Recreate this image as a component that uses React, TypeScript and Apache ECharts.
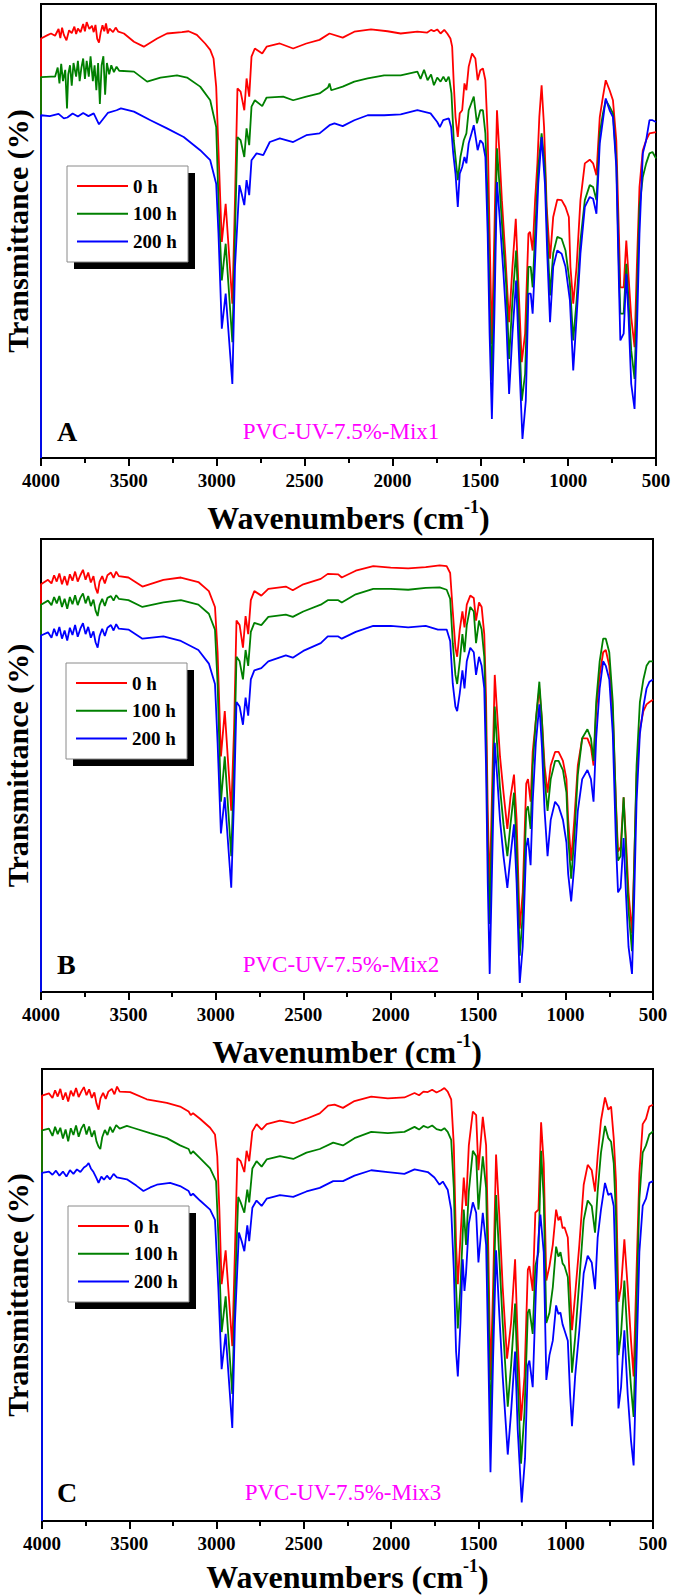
import React, { useEffect, useRef } from 'react';
import * as echarts from 'echarts';

const FONT = "'Times New Roman', 'Liberation Serif', 'DejaVu Serif', serif";

const SERIES_NAMES = ['0 h', '100 h', '200 h'];
const SERIES_COLORS = ['#ff0000', '#008000', '#0000ff'];
const PANEL_LETTERS = ['A', 'B', 'C'];
const PANEL_SAMPLES = ['PVC-UV-7.5%-Mix1', 'PVC-UV-7.5%-Mix2', 'PVC-UV-7.5%-Mix3'];
const X_TITLE_WORDS = ['Wavenumbers', 'Wavenumber', 'Wavenumbers'];
const Y_TITLE = 'Transmittance (%)';
const X_MIN = 500;
const X_MAX = 4000;
const X_STEP = 500;

// Panel A — [wavenumber cm-1, transmittance (a.u., 0-100 of the frame)]
const A_0H: number[][] = [[4000,0],[4000,92.4],[3960,93.2],[3943,93.5],[3920,93.0],[3900,94.5],[3890,92.5],[3880,94.8],[3870,93.2],[3855,92.0],[3840,94.2],[3825,93.6],[3810,95.0],[3800,93.4],[3790,94.6],[3775,93.8],[3760,95.6],[3750,94.0],[3740,96.0],[3725,94.5],[3710,95.2],[3700,93.8],[3690,95.4],[3680,92.3],[3670,91.5],[3660,93.8],[3650,95.3],[3640,94.0],[3630,95.7],[3620,93.5],[3610,94.6],[3590,93.8],[3575,94.8],[3560,93.9],[3528,93.5],[3471,91.7],[3415,90.6],[3339,92.4],[3283,93.5],[3198,93.8],[3160,94.0],[3113,93.2],[3066,91.3],[3037,89.9],[3018,88.0],[3003,81.8],[2990,67.8],[2971,47.6],[2949,56.0],[2911,34.0],[2896,56.8],[2882,81.4],[2864,80.7],[2843,76.6],[2830,83.6],[2815,79.6],[2802,88.4],[2783,90.2],[2741,89.1],[2716,90.6],[2641,91.3],[2565,90.2],[2490,91.3],[2415,92.1],[2358,93.5],[2283,92.6],[2217,93.9],[2122,94.4],[2028,94.0],[1953,93.5],[1858,93.9],[1802,93.7],[1780,94.3],[1764,94.0],[1745,94.4],[1726,93.5],[1705,94.3],[1688,93.5],[1670,92.4],[1660,90.6],[1651,82.5],[1641,75.1],[1628,70.7],[1617,75.9],[1603,76.6],[1590,82.5],[1579,81.0],[1566,86.2],[1547,89.1],[1528,88.0],[1515,83.2],[1500,85.4],[1485,85.8],[1471,83.2],[1458,71.5],[1447,49.4],[1434,25.1],[1420,49.4],[1405,76.6],[1392,67.8],[1377,56.8],[1358,45.0],[1336,29.9],[1317,42.1],[1298,52.7],[1283,38.4],[1264,21.1],[1245,27.4],[1226,49.4],[1217,49.8],[1202,45.7],[1188,56.8],[1175,64.9],[1164,75.1],[1151,82.1],[1137,72.9],[1122,55.3],[1103,43.9],[1085,53.1],[1062,56.9],[1037,56.8],[1015,55.3],[996,53.1],[987,42.1],[971,34.0],[952,42.1],[930,56.8],[905,64.9],[877,65.7],[858,64.9],[839,62.3],[830,68.5],[820,75.1],[802,79.6],[786,83.2],[764,81.0],[745,78.8],[726,70.0],[711,49.4],[703,37.6],[684,37.6],[669,47.9],[656,39.9],[641,31.0],[622,24.4],[609,42.1],[594,59.7],[575,67.8],[556,70.0],[537,71.5],[500,71.8]];
const A_100H: number[][] = [[4000,0],[4000,83.9],[3943,84.0],[3920,84.0],[3905,86.0],[3895,82.5],[3885,86.8],[3875,83.0],[3862,85.5],[3852,77.0],[3845,84.5],[3835,86.5],[3825,82.0],[3815,87.0],[3800,84.0],[3790,87.5],[3780,83.0],[3770,86.0],[3760,88.0],[3750,83.5],[3740,87.5],[3728,84.0],[3718,88.5],[3705,83.0],[3695,86.5],[3685,81.0],[3675,87.0],[3665,78.0],[3655,86.5],[3645,88.5],[3635,80.0],[3625,87.0],[3612,84.5],[3600,86.5],[3585,85.0],[3570,86.2],[3555,85.3],[3471,85.1],[3396,82.9],[3320,83.8],[3226,84.3],[3169,83.8],[3094,81.8],[3037,78.8],[3003,72.9],[2990,56.8],[2971,39.1],[2949,47.2],[2911,25.5],[2896,49.4],[2882,70.7],[2864,70.0],[2843,66.3],[2830,72.6],[2815,68.9],[2802,77.4],[2783,78.8],[2741,77.5],[2716,79.4],[2622,79.6],[2565,78.8],[2490,79.6],[2415,80.3],[2367,81.6],[2358,82.5],[2348,81.0],[2283,81.8],[2217,82.9],[2141,83.6],[2047,84.3],[1953,84.3],[1858,85.1],[1840,83.5],[1820,85.5],[1800,83.2],[1780,84.5],[1764,82.1],[1745,83.8],[1726,82.9],[1710,84.0],[1695,82.9],[1680,84.0],[1675,83.2],[1664,80.3],[1651,70.0],[1628,61.2],[1613,66.3],[1594,70.0],[1579,71.5],[1566,76.6],[1537,79.6],[1519,73.7],[1500,76.6],[1485,76.6],[1471,71.5],[1458,56.8],[1447,34.7],[1434,17.1],[1420,38.4],[1405,68.2],[1390,59.7],[1368,46.5],[1353,38.4],[1336,21.8],[1317,34.7],[1296,45.7],[1281,31.0],[1264,12.6],[1245,18.5],[1226,42.1],[1213,42.1],[1202,37.6],[1188,49.4],[1170,64.1],[1151,71.5],[1132,64.1],[1119,49.4],[1103,35.8],[1085,45.1],[1062,48.7],[1037,48.3],[1015,45.7],[990,38.4],[971,25.9],[952,34.7],[930,47.9],[905,56.8],[877,60.1],[858,59.7],[839,56.8],[820,71.5],[802,75.9],[786,78.8],[764,77.4],[745,75.9],[726,65.6],[711,42.1],[703,31.8],[684,31.8],[669,42.8],[656,34.7],[641,23.7],[622,17.4],[609,34.7],[594,55.3],[575,61.9],[556,64.9],[537,67.1],[520,67.4],[500,66.0]];
const A_200H: number[][] = [[4000,0],[4000,75.5],[3950,75.3],[3900,75.8],[3870,74.8],[3850,75.0],[3820,75.9],[3790,75.2],[3760,76.0],[3730,75.3],[3700,75.9],[3670,73.5],[3640,75.0],[3620,76.0],[3570,76.6],[3545,77.0],[3471,76.3],[3377,74.4],[3283,72.6],[3188,70.7],[3094,67.8],[3037,65.6],[3003,60.4],[2990,49.4],[2971,28.5],[2949,36.2],[2911,16.3],[2896,42.1],[2871,60.1],[2858,58.2],[2843,55.7],[2830,61.2],[2815,57.9],[2802,65.6],[2773,67.1],[2735,66.7],[2698,69.6],[2641,70.4],[2565,69.6],[2490,71.1],[2415,71.5],[2358,73.3],[2330,73.7],[2283,73.1],[2217,74.4],[2141,75.5],[2047,75.5],[1953,75.7],[1858,76.6],[1783,75.9],[1745,74.0],[1730,72.9],[1711,74.4],[1679,74.8],[1666,72.9],[1654,67.1],[1641,62.6],[1628,55.3],[1617,62.6],[1603,64.1],[1590,66.3],[1579,64.9],[1566,69.3],[1537,73.3],[1515,67.8],[1500,70.0],[1485,69.3],[1471,66.3],[1458,49.4],[1447,27.4],[1434,8.6],[1420,31.0],[1405,60.8],[1390,53.1],[1368,40.6],[1353,31.0],[1336,14.1],[1317,27.4],[1296,39.1],[1281,23.7],[1260,4.2],[1241,12.6],[1226,36.2],[1213,36.2],[1202,31.8],[1188,43.5],[1170,60.4],[1151,70.7],[1132,60.4],[1119,45.0],[1103,29.9],[1085,42.1],[1062,45.7],[1037,45.0],[1015,42.1],[990,34.7],[971,19.3],[952,31.0],[930,45.0],[905,55.3],[877,57.5],[858,57.1],[839,53.8],[820,69.3],[802,74.4],[786,79.2],[764,76.6],[745,75.1],[726,64.1],[711,38.4],[703,25.9],[684,27.4],[669,40.6],[656,31.0],[641,16.3],[622,10.8],[609,27.4],[594,49.4],[575,67.1],[556,70.0],[537,74.4],[520,74.4],[500,74.0]];

// Panel B
const B_0H: number[][] = [[4000,0],[4000,90.0],[3960,91.0],[3940,90.2],[3925,92.0],[3910,90.6],[3895,92.4],[3880,90.0],[3865,91.8],[3850,89.8],[3835,92.2],[3820,90.8],[3805,92.8],[3790,90.6],[3775,92.0],[3760,93.2],[3745,91.0],[3730,92.6],[3715,90.4],[3700,91.8],[3688,89.2],[3676,88.0],[3665,90.6],[3650,91.8],[3635,90.2],[3620,92.0],[3600,92.6],[3585,91.4],[3570,92.8],[3555,91.8],[3500,91.5],[3420,89.5],[3300,91.0],[3200,91.5],[3100,90.5],[3040,88.5],[3005,85.0],[2990,75.0],[2971,52.0],[2949,62.0],[2912,40.0],[2896,58.0],[2882,82.0],[2864,81.0],[2845,76.0],[2830,83.0],[2815,79.0],[2800,86.5],[2780,88.5],[2740,87.5],[2700,89.0],[2600,89.5],[2560,88.7],[2500,90.0],[2400,91.2],[2360,92.3],[2300,92.2],[2280,91.5],[2200,93.0],[2100,94.0],[2000,93.7],[1900,93.5],[1800,93.8],[1720,94.2],[1680,94.0],[1660,92.5],[1645,84.0],[1630,76.0],[1620,74.0],[1605,80.0],[1590,84.0],[1578,80.5],[1565,85.5],[1545,87.5],[1525,87.0],[1512,82.0],[1495,86.0],[1480,85.0],[1465,79.0],[1455,65.0],[1445,40.0],[1434,22.0],[1420,45.0],[1405,70.0],[1392,62.0],[1375,52.0],[1355,44.0],[1333,36.0],[1315,43.0],[1295,48.0],[1280,38.0],[1262,14.0],[1245,22.0],[1225,46.0],[1215,47.0],[1200,42.0],[1188,53.0],[1170,60.0],[1150,67.0],[1135,60.0],[1120,50.0],[1103,44.0],[1085,50.0],[1060,53.0],[1040,53.0],[1015,51.0],[995,47.0],[985,38.0],[968,29.0],[950,38.0],[930,50.0],[905,56.0],[875,56.0],[855,54.0],[840,50.0],[825,62.0],[805,70.0],[785,75.0],[770,75.5],[750,72.0],[730,62.0],[712,42.0],[700,31.0],[685,32.0],[668,43.0],[655,34.0],[640,22.0],[620,13.0],[608,28.0],[594,48.0],[575,58.0],[555,62.0],[537,63.5],[520,64.0],[500,64.5]];
const B_100H: number[][] = [[4000,0],[4000,85.5],[3960,86.4],[3940,85.4],[3925,87.2],[3910,85.8],[3895,87.4],[3880,85.0],[3865,86.8],[3850,84.6],[3835,87.2],[3820,85.6],[3805,87.6],[3790,85.4],[3775,87.0],[3760,88.0],[3745,85.8],[3730,87.4],[3715,85.2],[3700,86.6],[3688,84.2],[3676,83.0],[3665,85.4],[3650,86.8],[3635,85.2],[3620,87.0],[3600,87.4],[3585,86.4],[3570,87.6],[3555,86.8],[3500,86.5],[3420,85.0],[3300,86.0],[3200,86.5],[3100,85.5],[3040,83.5],[3005,80.0],[2990,68.0],[2971,42.0],[2949,52.0],[2912,30.0],[2896,50.0],[2882,74.0],[2864,73.0],[2845,69.0],[2830,75.5],[2815,72.0],[2800,79.5],[2780,81.5],[2740,81.0],[2700,82.8],[2600,83.3],[2560,82.8],[2500,84.0],[2400,85.5],[2360,86.5],[2300,86.5],[2280,86.0],[2200,87.8],[2100,89.0],[2000,89.0],[1900,88.8],[1800,89.2],[1720,89.3],[1680,88.8],[1660,86.8],[1645,77.0],[1630,70.0],[1620,68.0],[1605,73.0],[1590,79.0],[1578,75.0],[1565,81.0],[1545,85.0],[1525,84.0],[1512,77.0],[1495,82.0],[1480,80.0],[1465,74.0],[1455,58.0],[1445,32.0],[1434,15.0],[1420,38.0],[1405,63.0],[1392,55.0],[1375,45.0],[1355,37.0],[1333,30.0],[1315,37.0],[1295,44.0],[1280,32.0],[1262,8.0],[1245,17.0],[1225,40.0],[1215,41.0],[1200,36.0],[1188,50.0],[1170,60.0],[1150,68.5],[1135,60.0],[1120,47.0],[1103,40.0],[1085,47.0],[1060,51.0],[1040,51.0],[1015,49.0],[995,44.0],[985,34.0],[968,25.0],[950,34.0],[930,48.0],[905,56.0],[875,58.0],[855,56.0],[840,51.0],[825,64.0],[805,73.0],[785,78.0],[770,78.0],[750,75.0],[730,64.0],[712,41.0],[700,29.0],[685,30.0],[668,43.0],[655,32.0],[640,18.0],[620,9.0],[608,27.0],[594,50.0],[575,64.0],[555,69.0],[537,72.0],[520,73.0],[500,73.0]];
const B_200H: number[][] = [[4000,0],[4000,78.7],[3960,79.4],[3940,78.2],[3925,80.2],[3910,78.6],[3895,80.6],[3880,78.0],[3865,79.8],[3850,77.6],[3835,80.4],[3820,78.8],[3805,81.0],[3790,78.4],[3775,80.2],[3760,81.4],[3745,79.0],[3730,80.6],[3715,78.2],[3700,79.6],[3688,77.2],[3676,76.0],[3665,78.6],[3650,80.2],[3635,78.6],[3620,80.4],[3600,81.0],[3585,79.8],[3570,81.2],[3555,80.2],[3500,80.0],[3420,78.0],[3300,78.5],[3200,77.5],[3100,75.5],[3040,72.5],[3005,68.0],[2990,55.0],[2971,35.0],[2949,43.0],[2912,23.0],[2896,43.0],[2882,64.0],[2864,63.0],[2845,59.0],[2830,65.0],[2815,61.0],[2800,69.0],[2780,71.0],[2740,71.5],[2700,73.0],[2600,74.3],[2560,73.8],[2500,75.3],[2400,77.0],[2360,78.5],[2300,78.5],[2280,78.0],[2200,79.5],[2100,80.8],[2000,80.8],[1900,80.5],[1800,80.8],[1730,80.0],[1680,80.0],[1660,77.5],[1645,68.0],[1630,63.0],[1620,62.0],[1605,66.0],[1590,71.0],[1578,67.0],[1565,73.0],[1545,76.0],[1525,75.0],[1512,70.0],[1495,74.0],[1480,72.0],[1465,67.0],[1455,50.0],[1445,24.0],[1434,4.0],[1420,28.0],[1405,55.0],[1392,48.0],[1375,38.0],[1355,30.0],[1333,23.0],[1315,30.0],[1295,37.0],[1280,24.0],[1262,2.0],[1245,10.0],[1225,32.0],[1215,34.0],[1200,28.0],[1188,42.0],[1170,55.0],[1150,63.5],[1135,54.0],[1120,40.0],[1103,30.0],[1085,38.0],[1060,42.0],[1040,41.0],[1015,38.0],[995,33.0],[985,26.0],[968,20.0],[950,28.0],[930,40.0],[905,47.0],[875,49.0],[855,47.0],[840,42.0],[825,56.0],[805,67.0],[785,73.0],[770,72.0],[750,69.0],[730,57.0],[712,33.0],[700,22.0],[685,23.0],[668,34.0],[655,22.0],[640,10.0],[620,4.0],[608,20.0],[594,42.0],[575,57.0],[555,63.0],[537,67.0],[520,68.5],[500,69.0]];

// Panel C
const C_0H: number[][] = [[4000,0],[4000,94.1],[3960,94.6],[3940,93.6],[3925,95.3],[3910,93.9],[3895,95.6],[3880,93.2],[3865,94.8],[3850,92.8],[3835,95.2],[3820,94.0],[3805,95.8],[3790,93.8],[3775,95.0],[3760,96.0],[3745,94.2],[3730,95.5],[3715,93.6],[3700,94.8],[3688,92.4],[3676,91.0],[3665,93.5],[3650,94.7],[3635,93.4],[3620,95.0],[3600,95.6],[3585,94.4],[3570,96.1],[3555,95.0],[3495,94.9],[3400,93.3],[3285,92.5],[3209,91.7],[3160,90.6],[3148,89.8],[3135,90.2],[3095,89.0],[3037,87.0],[3009,85.5],[2996,80.7],[2984,68.9],[2971,52.4],[2948,59.9],[2910,38.7],[2895,59.5],[2881,80.3],[2862,79.6],[2841,77.2],[2828,81.9],[2813,79.6],[2795,86.2],[2771,87.8],[2742,86.6],[2713,87.8],[2637,88.6],[2561,88.0],[2485,89.0],[2409,90.2],[2361,91.9],[2324,92.1],[2276,91.4],[2210,92.9],[2114,93.9],[2019,93.5],[1924,93.7],[1866,94.7],[1840,94.2],[1815,95.0],[1790,94.9],[1765,95.4],[1740,94.8],[1714,95.3],[1695,95.8],[1676,95.0],[1656,93.3],[1641,83.1],[1628,61.1],[1618,52.4],[1603,62.7],[1584,76.0],[1571,69.7],[1555,83.1],[1532,90.6],[1513,89.8],[1500,77.6],[1475,89.4],[1456,83.1],[1443,59.5],[1431,31.2],[1416,51.7],[1399,81.1],[1380,67.4],[1361,51.7],[1336,35.9],[1313,43.8],[1290,57.9],[1275,39.9],[1256,22.2],[1236,32.0],[1217,55.6],[1208,56.4],[1189,50.9],[1174,68.2],[1156,68.9],[1141,88.2],[1126,79.2],[1111,53.2],[1093,56.4],[1074,61.1],[1055,68.9],[1042,66.5],[1030,67.4],[1018,64.8],[1007,65.0],[988,62.7],[975,51.7],[964,42.2],[946,50.1],[922,61.1],[897,74.4],[874,78.8],[851,77.6],[832,72.9],[817,80.7],[798,88.6],[775,93.7],[756,91.0],[740,91.7],[725,84.7],[712,75.2],[698,48.5],[683,51.7],[664,62.3],[645,51.7],[626,39.9],[611,32.0],[597,51.7],[578,76.8],[559,87.8],[540,89.0],[521,91.7],[500,92.1]];
const C_100H: number[][] = [[4000,0],[4000,86.4],[3960,86.8],[3940,85.2],[3925,87.2],[3910,85.6],[3895,87.0],[3880,84.6],[3865,86.6],[3850,84.0],[3835,86.9],[3820,85.4],[3805,87.5],[3790,85.0],[3775,86.8],[3760,87.8],[3745,85.5],[3730,87.3],[3715,85.0],[3700,86.4],[3688,84.0],[3676,82.8],[3666,82.3],[3655,84.9],[3640,86.5],[3625,85.4],[3610,87.2],[3595,86.0],[3575,87.6],[3555,86.8],[3514,87.4],[3480,87.0],[3381,85.8],[3285,84.7],[3209,83.1],[3160,82.3],[3148,81.2],[3135,81.8],[3095,80.3],[3037,78.0],[3003,75.2],[2990,63.4],[2971,41.8],[2948,49.7],[2910,28.1],[2895,50.1],[2876,71.7],[2862,70.5],[2841,68.2],[2824,73.3],[2813,70.5],[2795,78.0],[2771,79.6],[2742,78.4],[2713,80.0],[2637,80.7],[2561,80.1],[2485,81.5],[2409,82.3],[2332,83.7],[2276,83.1],[2210,84.7],[2114,86.1],[2019,85.8],[1924,86.1],[1866,87.2],[1840,86.6],[1815,87.4],[1790,87.0],[1765,87.5],[1740,86.7],[1714,86.4],[1695,86.9],[1676,86.1],[1656,84.3],[1641,73.7],[1628,51.7],[1618,42.6],[1603,51.7],[1584,68.9],[1571,61.1],[1555,72.9],[1532,81.9],[1513,80.7],[1500,68.9],[1475,80.7],[1456,73.7],[1443,50.1],[1431,19.8],[1416,43.8],[1399,72.1],[1380,57.9],[1361,43.8],[1332,25.3],[1313,34.4],[1290,48.1],[1275,31.2],[1256,12.7],[1236,24.1],[1217,46.1],[1208,46.9],[1189,41.4],[1174,56.4],[1156,59.5],[1141,81.9],[1126,71.3],[1111,43.8],[1093,46.1],[1074,51.7],[1055,60.7],[1042,58.5],[1030,59.5],[1018,57.0],[1007,56.4],[988,54.0],[975,43.8],[964,32.8],[946,40.6],[922,53.2],[897,66.6],[874,70.9],[851,69.7],[832,63.8],[817,72.9],[798,81.5],[775,87.4],[756,84.7],[740,83.9],[725,79.2],[712,67.4],[698,36.7],[683,41.4],[664,53.2],[645,39.9],[626,29.6],[611,23.0],[597,43.8],[578,71.3],[559,81.5],[540,83.1],[521,85.5],[500,86.2]];
const C_200H: number[][] = [[4000,0],[4000,77.0],[3960,77.3],[3940,76.6],[3920,77.5],[3900,76.4],[3880,77.3],[3860,76.2],[3840,77.6],[3820,76.8],[3800,77.8],[3780,77.2],[3760,78.2],[3745,78.6],[3733,79.2],[3720,78.0],[3705,77.2],[3690,76.0],[3676,74.8],[3660,76.2],[3645,75.5],[3628,76.4],[3610,75.6],[3590,76.8],[3571,76.0],[3514,75.6],[3460,74.2],[3419,73.0],[3380,73.8],[3342,74.4],[3266,74.8],[3209,74.1],[3160,73.0],[3148,72.0],[3135,72.4],[3095,70.9],[3037,68.9],[3009,66.6],[2990,51.7],[2971,33.6],[2948,41.4],[2910,20.6],[2895,43.8],[2872,63.8],[2856,61.9],[2841,59.7],[2824,65.4],[2813,61.9],[2795,69.3],[2771,70.9],[2742,69.7],[2713,71.3],[2637,72.1],[2561,71.7],[2485,72.9],[2409,73.7],[2332,75.2],[2276,75.2],[2210,76.4],[2114,77.6],[2019,77.2],[1924,76.8],[1866,77.8],[1790,77.2],[1752,76.0],[1723,74.4],[1704,75.1],[1676,73.3],[1656,68.9],[1641,55.6],[1628,37.5],[1618,32.0],[1603,43.8],[1590,57.9],[1580,50.9],[1571,54.8],[1555,65.8],[1532,70.5],[1513,68.2],[1500,57.2],[1475,68.2],[1456,61.1],[1443,35.9],[1431,10.8],[1416,35.9],[1399,59.9],[1380,45.4],[1361,32.0],[1332,14.7],[1313,24.1],[1290,37.5],[1275,20.2],[1252,4.1],[1233,13.9],[1217,34.4],[1208,35.5],[1189,29.6],[1170,51.7],[1156,62.7],[1145,67.8],[1126,59.5],[1111,31.2],[1093,36.7],[1074,39.9],[1055,47.7],[1042,45.8],[1030,46.1],[1018,43.5],[1007,42.2],[988,39.9],[975,28.1],[964,21.0],[946,32.0],[922,42.2],[897,54.8],[874,58.7],[851,57.2],[832,51.3],[817,62.7],[798,68.9],[775,74.8],[756,72.1],[740,72.5],[725,69.7],[712,51.7],[698,24.9],[683,29.6],[664,42.2],[645,28.1],[626,17.8],[611,12.3],[597,32.0],[578,59.5],[559,69.7],[540,71.3],[521,74.8],[500,75.2]];

const PANEL_DATA = [
  [A_0H, A_100H, A_200H],
  [B_0H, B_100H, B_200H],
  [C_0H, C_100H, C_200H],
];

// layout (pixels)
const PANEL_BOXES = [
  { left: 41, top: 4, width: 615, height: 454 },
  { left: 41, top: 539, width: 612, height: 453 },
  { left: 42, top: 1069, width: 611, height: 452 },
];
const X_TITLE_Y = [516, 1050, 1575];
const LETTER_Y = [431, 964, 1492];
const SAMPLE_X = [341, 341, 343];
const LEGEND_TOP = [166, 663, 1206];
const LEGEND_LEFT = [67, 66, 68];

function buildOption() {
  const grid: any[] = [];
  const xAxis: any[] = [];
  const yAxis: any[] = [];
  const series: any[] = [];
  const elements: any[] = [];

  PANEL_BOXES.forEach((b, i) => {
    grid.push({
      left: b.left, top: b.top, width: b.width, height: b.height,
      show: true, borderColor: '#000', borderWidth: 2, backgroundColor: 'transparent',
    });
    xAxis.push({
      gridIndex: i, type: 'value', min: X_MIN, max: X_MAX, interval: X_STEP, inverse: true,
      axisLine: { show: true, onZero: false, lineStyle: { color: '#000', width: 2 } },
      axisTick: { show: true, inside: false, length: 8, lineStyle: { color: '#000', width: 2 } },
      minorTick: { show: true, splitNumber: 2, length: 5, lineStyle: { color: '#000', width: 2 } },
      axisLabel: {
        color: '#000', fontFamily: FONT, fontWeight: 'bold', fontSize: 19, margin: 13,
        formatter: (v: number) => String(v),
      },
      splitLine: { show: false },
      minorSplitLine: { show: false },
    });
    yAxis.push({
      gridIndex: i, type: 'value', min: 0, max: 100,
      axisLine: { show: false }, axisTick: { show: false }, axisLabel: { show: false },
      splitLine: { show: false },
    });
    PANEL_DATA[i].forEach((d, k) => {
      series.push({
        type: 'line', name: SERIES_NAMES[k], xAxisIndex: i, yAxisIndex: i, data: d,
        showSymbol: false, symbol: 'none',
        lineStyle: { color: SERIES_COLORS[k], width: 1.8 },
        itemStyle: { color: SERIES_COLORS[k] },
        emphasis: { disabled: true },
      });
    });

    const cx = b.left + b.width / 2;
    const cy = b.top + b.height / 2;
    // y title
    elements.push({
      type: 'text', x: 17, y: cy, rotation: Math.PI / 2,
      style: {
        text: Y_TITLE, fontFamily: FONT, fontWeight: 'bold', fontSize: 30, fill: '#000',
        align: 'center', verticalAlign: 'middle', textAlign: 'center', textVerticalAlign: 'middle',
      },
    });
    // x title with superscript
    elements.push({
      type: 'text', x: cx, y: X_TITLE_Y[i],
      style: {
        text: `{t|${X_TITLE_WORDS[i]} (cm}{s|-1}{t|)}`,
        align: 'center', verticalAlign: 'middle', textAlign: 'center', textVerticalAlign: 'middle',
        fill: '#000',
        rich: {
          t: { fontFamily: FONT, fontWeight: 'bold', fontSize: 32, lineHeight: 36, verticalAlign: 'bottom', fill: '#000' },
          s: { fontFamily: FONT, fontWeight: 'bold', fontSize: 18, lineHeight: 14, verticalAlign: 'top', fill: '#000' },
        },
      },
    });
    // panel letter
    elements.push({
      type: 'text', x: 57, y: LETTER_Y[i],
      style: {
        text: PANEL_LETTERS[i], fontFamily: FONT, fontWeight: 'bold', fontSize: 28, fill: '#000',
        align: 'left', verticalAlign: 'middle', textAlign: 'left', textVerticalAlign: 'middle',
      },
    });
    // sample label
    elements.push({
      type: 'text', x: SAMPLE_X[i], y: LETTER_Y[i],
      style: {
        text: PANEL_SAMPLES[i], fontFamily: FONT, fontSize: 23, fill: '#ff00ff',
        align: 'center', verticalAlign: 'middle', textAlign: 'center', textVerticalAlign: 'middle',
      },
    });
    // legend box with shadow
    const lx = LEGEND_LEFT[i];
    const ly = LEGEND_TOP[i];
    elements.push({ type: 'rect', shape: { x: lx + 7, y: ly + 7, width: 121, height: 96 }, style: { fill: '#000' } });
    elements.push({ type: 'rect', shape: { x: lx, y: ly, width: 121, height: 96 }, style: { fill: '#fff', stroke: '#8a8a8a', lineWidth: 1 } });
    SERIES_NAMES.forEach((nm, k) => {
      const yy = ly + 20 + k * 27.7;
      elements.push({ type: 'line', shape: { x1: lx + 10, y1: yy, x2: lx + 61, y2: yy }, style: { stroke: SERIES_COLORS[k], lineWidth: 2 } });
      elements.push({
        type: 'text', x: lx + 66, y: yy,
        style: {
          text: nm, fontFamily: FONT, fontWeight: 'bold', fontSize: 19, fill: '#000',
          align: 'left', verticalAlign: 'middle', textAlign: 'left', textVerticalAlign: 'middle',
        },
      });
    });
  });

  return {
    animation: false,
    backgroundColor: '#fff',
    grid, xAxis, yAxis, series,
    graphic: { elements },
  };
}

export default function App() {
  const ref = useRef<HTMLDivElement>(null);
  useEffect(() => {
    document.body.style.margin = '0';
    if (!ref.current) return;
    const chart = echarts.init(ref.current, null, { renderer: 'svg' });
    chart.setOption(buildOption() as any);
    return () => chart.dispose();
  }, []);
  return <div ref={ref} style={{ width: 675, height: 1595 }} />;
}
